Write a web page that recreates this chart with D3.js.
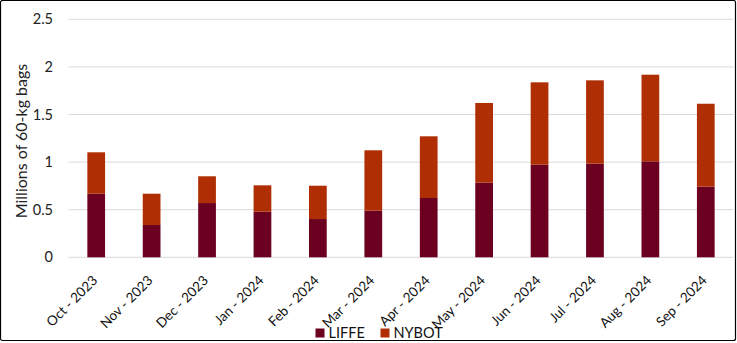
<!DOCTYPE html>
<html><head><meta charset="utf-8">
<script src="https://cdn.jsdelivr.net/npm/d3@7"></script>
<style>body{margin:0;background:#fff;}svg{display:block;font-family:Lato,"Open Sans",sans-serif;}</style>
</head><body><svg id="c" width="737" height="343"></svg>
<script>
const categories = ["Oct - 2023","Nov - 2023","Dec - 2023","Jan - 2024","Feb - 2024","Mar - 2024","Apr - 2024","May - 2024","Jun - 2024","Jul - 2024","Aug - 2024","Sep - 2024"];
const liffe = [0.668,0.339,0.570,0.479,0.402,0.490,0.623,0.784,0.973,0.983,1.008,0.742];
const nybot = [0.435,0.329,0.281,0.277,0.350,0.634,0.648,0.837,0.865,0.876,0.910,0.871];
const yTicks = [0,0.5,1,1.5,2,2.5];
const seriesNames = ["LIFFE","NYBOT"];
const colors = ["#6B0021","#B02E04"];

const svg = d3.select("#c");
svg.append("rect").attr("x",0.5).attr("y",0.5).attr("width",735).attr("height",340)
  .attr("fill","#fff").attr("stroke","#000").attr("stroke-width",1.2).attr("rx",2);

const x = d3.scaleBand().domain(categories).range([68.5,733.5]).paddingInner(0.68).paddingOuter(0.34);
const y = d3.scaleLinear().domain([0,2.5]).range([257.3,19.3]);

// gridlines
svg.append("g").selectAll("line").data(yTicks).join("line")
  .attr("x1",68.5).attr("x2",733.5).attr("y1",d=>y(d)).attr("y2",d=>y(d))
  .attr("stroke","#d9d9d9").attr("stroke-width",1);

// y axis
const yAxis = d3.axisLeft(y).tickValues(yTicks).tickSize(0).tickPadding(0).tickFormat(d=>String(d));
const yg = svg.append("g").attr("transform","translate(53,0)").call(yAxis);
yg.select(".domain").remove();
yg.selectAll("text").attr("font-size",14.5).attr("fill","#222").attr("font-family","Lato,sans-serif");

// stacked bars
const rows = categories.map((c,i)=>({cat:c,LIFFE:liffe[i],NYBOT:nybot[i]}));
const stack = d3.stack().keys(seriesNames)(rows);
svg.append("g").selectAll("g").data(stack).join("g").attr("fill",(d,i)=>colors[i])
  .selectAll("rect").data(d=>d).join("rect")
  .attr("x",d=>x(d.data.cat)).attr("width",x.bandwidth())
  .attr("y",d=>y(d[1])).attr("height",d=>y(d[0])-y(d[1]));

// x axis
const xAxis = d3.axisBottom(x).tickSize(0).tickPadding(0);
const xg = svg.append("g").attr("transform","translate(0,257.3)").call(xAxis);
xg.select(".domain").remove();
xg.selectAll("text").attr("font-size",13.5).attr("fill","#111").attr("font-family","Lato,sans-serif")
  .attr("text-anchor","end").attr("dy",0)
  .attr("transform","translate(2,24) rotate(-45)");

// y title
svg.append("text").attr("transform","translate(27,141) rotate(-90)")
  .attr("text-anchor","middle").attr("font-size",16).attr("fill","#222").text("Millions of 60-kg bags");

// legend
const leg = svg.append("g");
const lx = [315.5,380.5];
seriesNames.forEach((s,i)=>{
  leg.append("rect").attr("x",lx[i]).attr("y",328.5).attr("width",9).attr("height",9).attr("fill",colors[i]);
  leg.append("text").attr("x",lx[i]+13).attr("y",338).attr("font-size",14.5).attr("fill","#111").text(s);
});
</script></body></html>
